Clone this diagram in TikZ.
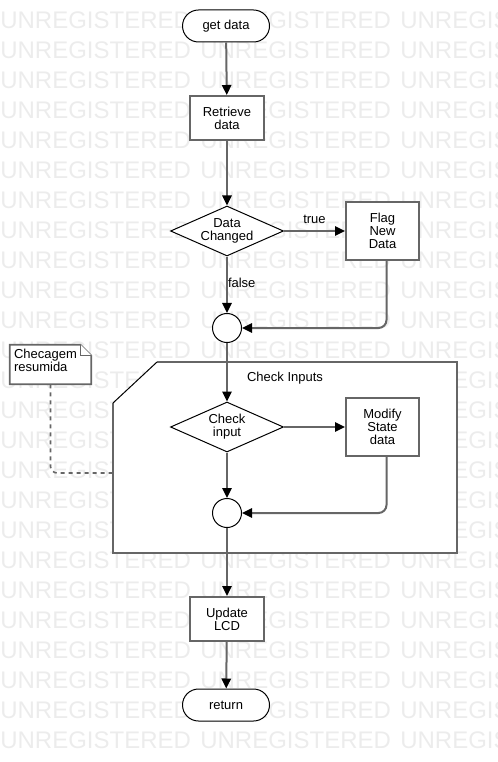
\documentclass[tikz,border=0pt]{standalone}
\usepackage{fontspec}
\setmainfont{Liberation Sans}
\usetikzlibrary{shapes.geometric,arrows.meta}
\definecolor{linegray}{RGB}{102,102,102}
\definecolor{markgray}{RGB}{236,236,236}

\tikzset{
  base/.style={font=\fontsize{9.75}{9.75}\selectfont, align=center, inner sep=0pt},
  watermark/.style={font=\fontsize{18}{18}\selectfont, text=markgray, anchor=west, inner sep=0pt},
  terminal/.style={base, draw=black, fill=white, line width=0.75pt, rounded corners=12pt,
    minimum width=65.25pt, minimum height=24pt},
  action/.style={base, draw=linegray, fill=white, line width=1.5pt, minimum width=55.5pt, minimum height=33pt},
  decision/.style={base, diamond, aspect=2.26, draw=black, fill=white, line width=0.75pt,
    minimum width=84.75pt, minimum height=37.5pt},
  merge/.style={circle, draw=black, fill=white, line width=0.75pt, minimum size=21.75pt, inner sep=0pt},
  flow/.style={draw=linegray, line width=1.5pt, rounded corners=6pt,
    -{Triangle[length=7.5pt,width=7pt,color=black]}},
  notebox/.style={draw=linegray, fill=white, line width=1.2pt},
  dashline/.style={draw=linegray, line width=1.2pt, dashed, rounded corners=5pt}
}

\begin{document}
\begin{tikzpicture}[x=0.75pt, y=-0.75pt]
\useasboundingbox (0,0) rectangle (497,762);

% Background watermark
\foreach \r in {0,...,24}{
  \foreach \c in {0,1,2}{
    \node[watermark] (wm-\r-\c) at (200*\c, 20+30*\r) {UNREGISTERED};
  }
}

% Frame for the input checks
\fill[white] (157,362) -- (457,362) -- (457,553) -- (113,553) -- (113,403) -- cycle;
\draw[linegray, line width=1.5pt] (157,362) -- (457,362) -- (457,553) -- (113,553) -- (113,403);
\draw[black, line width=0.75pt] (113,403) -- (157,362);
\coordinate (frameW) at (113,473);
\node[base] (framelabel) at (285,378) {Check Inputs};

% Note
\node[inner sep=0pt, minimum width=60.75pt, minimum height=29.25pt] (note) at (50.5,364.5) {};
\draw[notebox] (note.north west) -- ([xshift=-8pt]note.north east) -- ([yshift=-8pt]note.north east)
  -- (note.south east) -- (note.south west) -- cycle;
\draw[notebox] ([xshift=-8pt]note.north east) |- ([yshift=-8pt]note.north east);
\node[base, align=left, anchor=north west] (notetext) at ([xshift=3pt,yshift=-3pt]note.north west) {Checagem\\resumida};
\draw[dashline] (note.south) |- (frameW);

% Nodes
\node[terminal] (get) at (226,26) {get data};
\node[action] (retrieve) at (227,118) {Retrieve\\data};
\node[decision] (changed) at (227,231) {Data\\Changed};
\node[action, minimum width=54.75pt, minimum height=43.5pt] (flag) at (382.5,231) {Flag\\New\\Data};
\node[merge] (m1) at (227,328) {};
\node[decision] (checkin) at (227,427) {Check\\input};
\node[action, minimum width=54.75pt, minimum height=43.5pt] (modify) at (382.5,427) {Modify\\State\\data};
\node[merge] (m2) at (227,513) {};
\node[action] (update) at (227,619) {Update\\LCD};
\node[terminal] (ret) at (226,705) {return};

% Connectors
\draw[flow] (get) -- (retrieve);
\draw[flow] (retrieve) -- (changed);
\draw[flow] (changed) -- node[base, above=5pt] (truelabel) {true} (flag);
\draw[flow] (changed) -- node[base, right=0pt, pos=0.47] (falselabel) {false} (m1);
\draw[flow] ([xshift=3pt]flag.south) |- (m1);
\draw[flow] (m1) -- (checkin);
\draw[flow] (checkin) -- (modify);
\draw[flow] (checkin) -- (m2);
\draw[flow] ([xshift=3pt]modify.south) |- (m2);
\draw[flow] (m2) -- (update);
\draw[flow] (update) -- (ret);
\end{tikzpicture}
\end{document}
